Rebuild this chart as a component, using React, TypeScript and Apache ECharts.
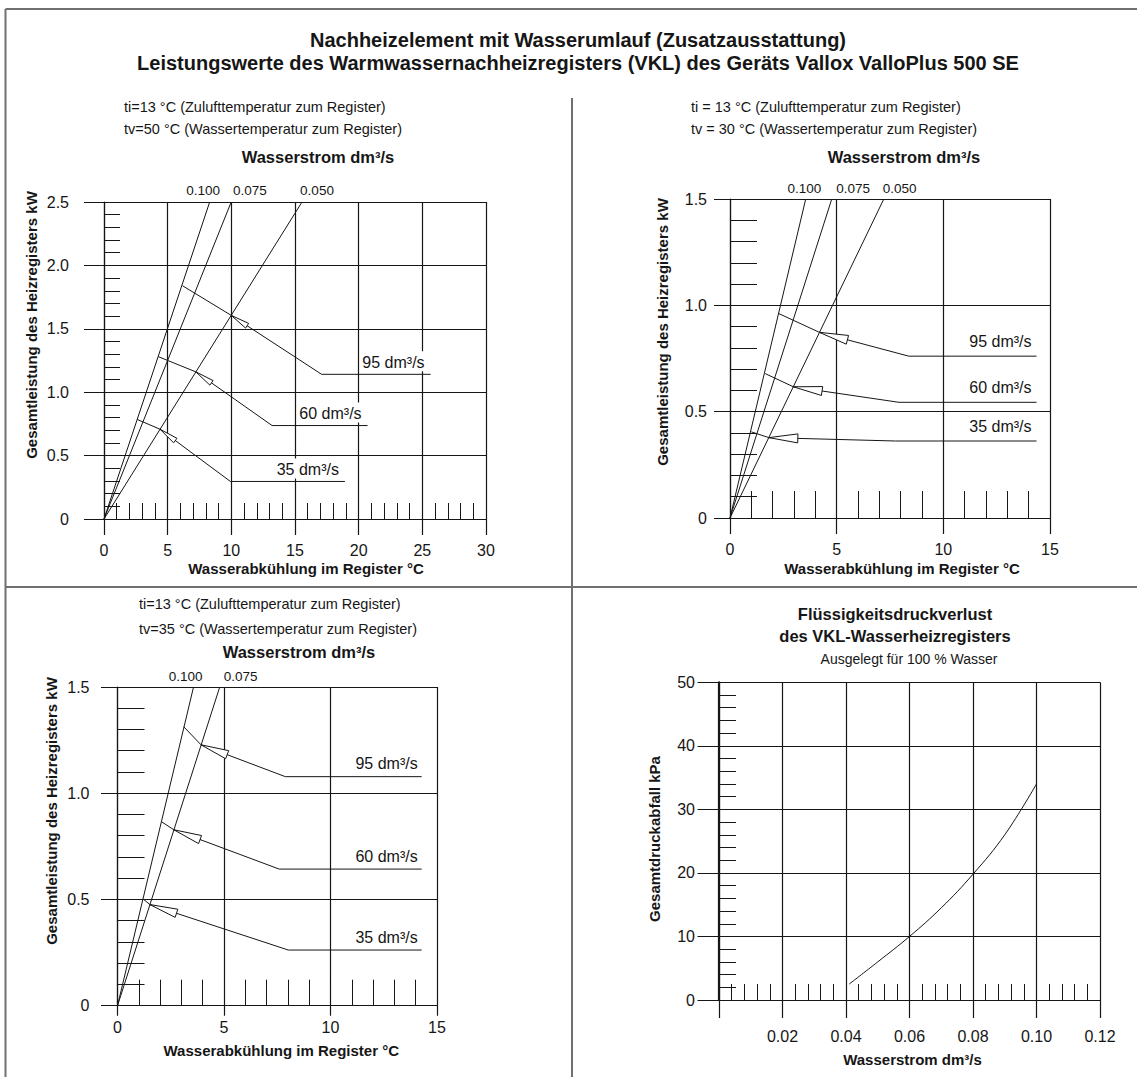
import React, { useEffect, useRef } from 'react';
import * as echarts from 'echarts';

const FONT = "'Liberation Sans', Arial, Helvetica, sans-serif";
const INK = '#161616';
const FRAME = '#707070';

// ---------- texts ----------
const titleLines = [
  'Nachheizelement mit Wasserumlauf (Zusatzausstattung)',
  'Leistungswerte des Warmwassernachheizregisters (VKL) des Geräts Vallox ValloPlus 500 SE',
];
const flowHeading = 'Wasserstrom dm³/s';
const powerAxisName = 'Gesamtleistung des Heizregisters kW';
const coolingAxisName = 'Wasserabkühlung im Register °C';
const dropAxisName = 'Gesamtdruckabfall kPa';
const airNames = ['95 dm³/s', '60 dm³/s', '35 dm³/s'];

// ---------- panel A: tv = 50 °C ----------
const aHeader = ['ti=13 °C (Zulufttemperatur zum Register)', 'tv=50 °C (Wassertemperatur zum Register)'];
const aFlowNames = ['0.100', '0.075', '0.050'];
const aFlowTopX = [8.3, 9.99, 15.55]; // cooling (°C) where each flow line reaches 2.5 kW
const aAir95 = [[6.16, 1.84], [9.99, 1.606], [17.09, 1.141], [25.65, 1.141]];
const aAir60 = [[4.27, 1.28], [7.22, 1.16], [13.2, 0.737], [20.7, 0.737]];
const aAir35 = [[2.61, 0.785], [4.4, 0.708], [9.93, 0.296], [18.92, 0.296]];

// ---------- panel B: tv = 30 °C ----------
const bHeader = ['ti = 13 °C (Zulufttemperatur zum Register)', 'tv = 30 °C (Wassertemperatur zum Register)'];
const bFlowNames = ['0.100', '0.075', '0.050'];
const bFlowTopX = [3.55, 4.77, 7.21]; // where each flow line reaches 1.5 kW
const bAir95 = [[2.27, 0.962], [4.19, 0.873], [8.38, 0.761], [14.37, 0.761]];
const bAir60 = [[1.65, 0.679], [2.97, 0.617], [7.92, 0.544], [14.37, 0.544]];
const bAir35 = [[1.0, 0.405], [1.82, 0.378], [7.76, 0.362], [14.37, 0.362]];

// ---------- panel C: tv = 35 °C ----------
const cHeader = ['ti=13 °C (Zulufttemperatur zum Register)', 'tv=35 °C (Wassertemperatur zum Register)'];
const cFlowNames = ['0.100', '0.075'];
const cFlowTopX = [3.57, 4.8];
const cAir95 = [[3.11, 1.313], [3.92, 1.228], [7.88, 1.078], [14.28, 1.078]];
const cAir60 = [[2.08, 0.865], [2.645, 0.828], [7.59, 0.643], [14.28, 0.643]];
const cAir35 = [[1.23, 0.5], [1.52, 0.476], [8.02, 0.262], [14.28, 0.262]];

// ---------- panel D: pressure drop ----------
const dTitle = ['Flüssigkeitsdruckverlust', 'des VKL-Wasserheizregisters'];
const dSubtitle = 'Ausgelegt für 100 % Wasser';
const dFlow = [0.041, 0.05, 0.06, 0.07, 0.08, 0.09, 0.1];
const dDrop = [2.5, 6.0, 10.0, 14.5, 19.8, 26.0, 34.0];

// ---------- layout (pixels) ----------
const fmt1 = (v: number) => (v === 0 ? '0' : v.toFixed(1));
const fmtInt = (v: number) => String(Math.round(v));
const fmtFlow = (v: number) => (v === 0 ? '' : v.toFixed(2));

const panels = [
  { L: 104, R: 486, T: 202, B: 519, extL: 20, extB: 16, xMax: 30, xInt: 5, yMax: 2.5, yInt: 0.5,
    xTick: 16, yTick: 16, axisW: 1.2, yLabelMargin: 35, xLabelMargin: 23, xNameGap: 42, xNamePad: 22,
    xName: coolingAxisName, xFmt: fmtInt, yFmt: fmt1 },
  { L: 730, R: 1050, T: 199, B: 518, extL: 16, extB: 16, xMax: 15, xInt: 5, yMax: 1.5, yInt: 0.5,
    xTick: 27, yTick: 27, axisW: 1.2, yLabelMargin: 23, xLabelMargin: 23, xNameGap: 43, xNamePad: 24,
    xName: coolingAxisName, xFmt: fmtInt, yFmt: fmt1 },
  { L: 117.5, R: 437, T: 687, B: 1005.7, extL: 16.5, extB: 10, xMax: 15, xInt: 5, yMax: 1.5, yInt: 0.5,
    xTick: 26, yTick: 27, axisW: 1.2, yLabelMargin: 28, xLabelMargin: 14, xNameGap: 37, xNamePad: 8,
    xName: coolingAxisName, xFmt: fmtInt, yFmt: fmt1 },
  { L: 719, R: 1100, T: 682.3, B: 1000, extL: 21.5, extB: 18, xMax: 0.12, xInt: 0.02, yMax: 50, yInt: 10,
    xTick: 16, yTick: 17, axisW: 2.2, yLabelMargin: 24, xLabelMargin: 28, xNameGap: 52, xNamePad: 6,
    xName: flowHeading, xFmt: fmtFlow, yFmt: fmtInt },
];

const txt = (text: string, x: number, y: number, size: number, bold: boolean, align = 'left', rotation = 0) => ({
  type: 'text', x, y, rotation, silent: true,
  style: { text, fontSize: size, fontWeight: bold ? 'bold' : 'normal', fontFamily: FONT, fill: INK, align, verticalAlign: 'middle' },
});
const seg = (x1: number, y1: number, x2: number, y2: number) => ({
  type: 'line', silent: true, shape: { x1, y1, x2, y2 }, style: { stroke: FRAME, lineWidth: 2 },
});

function flowSeries(k: number, yMax: number, names: string[], tops: number[], dxs: number[], dist: number) {
  return names.map((n, i) => ({
    type: 'line', xAxisIndex: 3 * k, yAxisIndex: 3 * k, silent: true, symbol: 'none', showSymbol: true,
    lineStyle: { color: INK, width: 1 },
    data: [
      [0, 0],
      { value: [tops[i], yMax], symbol: 'circle', symbolSize: 0,
        label: { show: true, position: 'top', distance: dist, offset: [dxs[i], 0], formatter: n,
          fontSize: 13.5, color: INK, fontFamily: FONT } },
    ],
  }));
}

function airSeries(k: number, curves: number[][][], dist: number, dx: number) {
  return curves.map((c, i) => ({
    type: 'line', xAxisIndex: 3 * k, yAxisIndex: 3 * k, silent: true, symbol: 'none', showSymbol: true,
    lineStyle: { color: INK, width: 1 },
    data: c.map((p, j) => (j < c.length - 1 ? p : {
      value: p, symbol: 'circle', symbolSize: 0,
      label: { show: true, position: 'top', align: 'right', distance: dist, offset: [dx, 0], formatter: airNames[i],
        fontSize: 16, color: INK, fontFamily: FONT, backgroundColor: '#fff', padding: [3, 1, 1, 1] },
    })),
  }));
}

function arrowSeries(k: number, curves: number[][][], len: number, half: number) {
  return {
    type: 'custom', xAxisIndex: 3 * k, yAxisIndex: 3 * k, silent: true, z: 4,
    data: curves.map((c) => [c[1][0], c[1][1], c[2][0], c[2][1]]),
    renderItem: (_p: any, api: any) => {
      const a = api.coord([api.value(0), api.value(1)]);
      const b = api.coord([api.value(2), api.value(3)]);
      const dx = b[0] - a[0];
      const dy = b[1] - a[1];
      const n = Math.hypot(dx, dy) || 1;
      const ux = dx / n;
      const uy = dy / n;
      const tx = a[0] + ux * len;
      const ty = a[1] + uy * len;
      return {
        type: 'polygon',
        shape: { points: [a, [tx - uy * half, ty + ux * half], [tx + uy * half, ty - ux * half]] },
        style: { fill: '#fff', stroke: INK, lineWidth: 1 },
      };
    },
  };
}

function buildOption() {
  const grid: any[] = [];
  const xAxis: any[] = [];
  const yAxis: any[] = [];
  const tickStyle = { color: INK, width: 1 };
  const lineStyle = { color: INK, width: 1.2 };
  const labelStyle = { fontSize: 16, color: INK, fontFamily: FONT };
  const gridBase = { containLabel: false, outerBoundsMode: 'none' };
  const hidden = { show: false };
  const bare = {
    show: true, axisLine: { show: false, onZero: false }, axisTick: { show: false },
    axisLabel: { show: false }, minorTick: { show: false },
  };

  panels.forEach((P, k) => {
    const g = 3 * k;
    // main grid (exact plot area): axes, labels, ticks
    grid.push({ ...gridBase, left: P.L, top: P.T, width: P.R - P.L, height: P.B - P.T });
    // grid for horizontal lines, reaching left past the y axis
    grid.push({ ...gridBase, left: P.L - P.extL, top: P.T, width: P.R - P.L + P.extL, height: P.B - P.T });
    // grid for vertical lines, reaching down past the x axis
    grid.push({ ...gridBase, left: P.L, top: P.T, width: P.R - P.L, height: P.B - P.T + P.extB });

    xAxis.push({
      type: 'value', gridIndex: g, min: 0, max: P.xMax, interval: P.xInt, position: 'bottom',
      axisLine: { show: true, onZero: false, lineStyle },
      axisTick: { show: true, inside: true, length: P.xTick, lineStyle: tickStyle },
      minorTick: { show: true, splitNumber: 5, length: P.xTick, lineStyle: tickStyle },
      axisLabel: { ...labelStyle, margin: P.xLabelMargin, formatter: P.xFmt },
      splitLine: { show: false },
      name: P.xName, nameLocation: 'middle', nameGap: P.xNameGap,
      nameTextStyle: { fontSize: 15, fontWeight: 'bold', color: INK, fontFamily: FONT, padding: [0, 0, 0, P.xNamePad] },
    });
    yAxis.push({
      type: 'value', gridIndex: g, min: 0, max: P.yMax, interval: P.yInt, position: 'left',
      axisLine: { show: true, onZero: false, lineStyle: { color: INK, width: P.axisW } },
      axisTick: { show: true, inside: true, length: P.yTick, lineStyle: tickStyle },
      minorTick: { show: true, splitNumber: 5, length: P.yTick, lineStyle: tickStyle },
      axisLabel: { ...labelStyle, margin: P.yLabelMargin, formatter: P.yFmt },
      splitLine: { show: false },
    });

    // horizontal grid lines
    xAxis.push({ type: 'value', gridIndex: g + 1, min: 0, max: P.xMax, ...hidden });
    yAxis.push({
      type: 'value', gridIndex: g + 1, min: 0, max: P.yMax, interval: P.yInt, ...bare,
      splitLine: { show: true, lineStyle },
    });

    // vertical grid lines
    xAxis.push({
      type: 'value', gridIndex: g + 2, min: 0, max: P.xMax, interval: P.xInt, ...bare,
      splitLine: { show: true, lineStyle },
    });
    yAxis.push({ type: 'value', gridIndex: g + 2, min: 0, max: P.yMax, ...hidden });
  });

  const aCurves = [aAir95, aAir60, aAir35];
  const bCurves = [bAir95, bAir60, bAir35];
  const cCurves = [cAir95, cAir60, cAir35];

  const series: any[] = [
    ...flowSeries(0, 2.5, aFlowNames, aFlowTopX, [-6.5, 18.7, 15], 5),
    ...airSeries(0, aCurves, 3, -5),
    arrowSeries(0, aCurves, 19, 2.8),
    ...flowSeries(1, 1.5, bFlowNames, bFlowTopX, [-1.4, 21.4, 15.9], 4),
    ...airSeries(1, bCurves, 6, -4),
    arrowSeries(1, bCurves, 29, 4.5),
    ...flowSeries(2, 1.5, cFlowNames, cFlowTopX, [-8, 21], 4),
    ...airSeries(2, cCurves, 4, -3),
    arrowSeries(2, cCurves, 28, 4.3),
    {
      type: 'line', xAxisIndex: 9, yAxisIndex: 9, silent: true, symbol: 'none',
      smooth: 0.4,
      lineStyle: { color: INK, width: 1 },
      data: dFlow.map((x, i) => [x, dDrop[i]]),
    },
  ];

  const graphic: any[] = [
    seg(5.5, 9, 1137, 9),
    seg(5.5, 9, 5.5, 1077),
    seg(572, 98, 572, 1077),
    seg(5.5, 587, 1137, 587),
    txt(titleLines[0], 578, 40, 20, true, 'center'),
    txt(titleLines[1], 578, 63, 20, true, 'center'),
    txt(aHeader[0], 124, 107, 14.5, false),
    txt(aHeader[1], 124, 129, 14.5, false),
    txt(flowHeading, 318, 157, 16.5, true, 'center'),
    txt(bHeader[0], 691, 107, 14.5, false),
    txt(bHeader[1], 691, 129, 14.5, false),
    txt(flowHeading, 904, 157, 16.5, true, 'center'),
    txt(cHeader[0], 139, 604, 14.5, false),
    txt(cHeader[1], 139, 629, 14.5, false),
    txt(flowHeading, 299, 652, 16.5, true, 'center'),
    txt(dTitle[0], 895, 614, 16.5, true, 'center'),
    txt(dTitle[1], 895, 636, 16.5, true, 'center'),
    txt(dSubtitle, 909, 659, 14, false, 'center'),
    txt(powerAxisName, 31, 325, 15, true, 'center', Math.PI / 2),
    txt(powerAxisName, 662, 332, 15, true, 'center', Math.PI / 2),
    txt(powerAxisName, 51, 811, 15, true, 'center', Math.PI / 2),
    txt(dropAxisName, 654, 839, 15, true, 'center', Math.PI / 2),
  ];

  return {
    animation: false,
    backgroundColor: '#fff',
    textStyle: { fontFamily: FONT, color: INK },
    grid, xAxis, yAxis, series, graphic,
  };
}

export default function App() {
  const ref = useRef<HTMLDivElement>(null);
  useEffect(() => {
    const chart = echarts.init(ref.current as HTMLDivElement, null, { renderer: 'svg' });
    chart.setOption(buildOption() as any);
    return () => chart.dispose();
  }, []);
  return (
    <div
      ref={ref}
      style={{ position: 'absolute', left: 0, top: 0, width: 1137, height: 1077, background: '#fff' }}
    />
  );
}
